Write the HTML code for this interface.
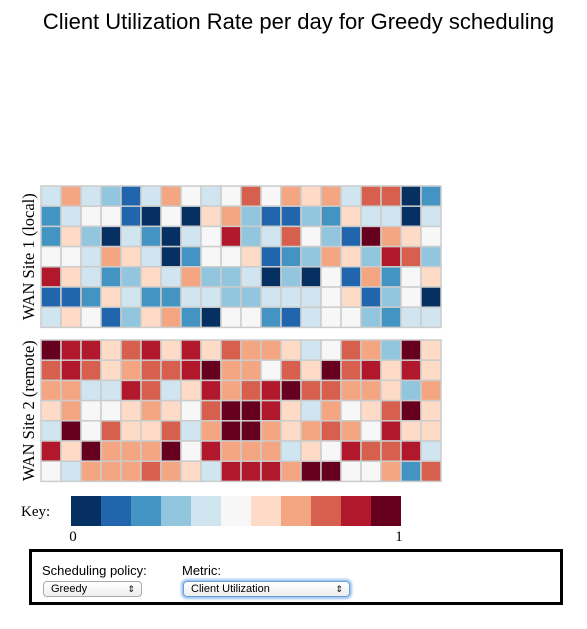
<!DOCTYPE html>
<html><head><meta charset="utf-8"><style>
body{margin:0;width:587px;height:629px;background:#fff;position:relative;overflow:hidden;font-family:"Liberation Sans",sans-serif}
.abs{position:absolute}
.sel{position:absolute;height:14px;border:1px solid #aaa;border-radius:4px;background:linear-gradient(#fff,#eee);font-size:11px;line-height:14px;padding-left:7px;box-sizing:content-box}
.sel span{position:absolute;right:6px;top:0;font-size:9px}
</style></head><body>
<div class="abs" style="left:0;width:597px;top:9px;text-align:center;font-size:22px">Client Utilization Rate per day for Greedy scheduling</div>
<svg id="chart" class="abs" style="left:0;top:0" width="587" height="545"></svg>
<div class="abs" style="left:29px;top:549px;width:528px;height:50px;border:3px solid #000">
  <div class="abs" style="left:10px;top:11px;font-size:13px">Scheduling policy:</div>
  <div class="sel" style="left:11px;top:29px;width:90px">Greedy<span>&#8661;</span></div>
  <div class="abs" style="left:150px;top:11px;font-size:13px">Metric:</div>
  <div class="sel" style="left:151px;top:29px;width:158px;border-color:#6a9fd8;box-shadow:0 0 2px 2px #9cc3ee">Client Utilization<span>&#8661;</span></div>
</div>
<script>
const colors=["#053061","#2166ac","#4393c3","#92c5de","#d1e5f0","#f7f7f7","#fddbc7","#f4a582","#d6604d","#b2182b","#67001f"];
const site1=[
[4,7,4,3,1,4,7,5,4,5,8,5,7,6,7,4,8,8,0,2],
[2,4,5,5,1,0,5,0,6,7,3,1,1,3,2,6,4,4,0,4],
[2,6,3,0,4,2,0,4,5,9,3,4,8,5,3,1,10,7,6,5],
[5,5,4,7,6,4,0,2,5,5,6,1,2,3,7,6,3,9,8,3],
[9,6,4,2,3,6,4,7,3,3,4,0,3,0,5,1,7,2,5,6],
[1,1,2,6,4,2,2,4,4,3,3,4,4,4,5,6,1,3,5,0],
[4,6,5,1,3,6,7,2,0,5,5,2,1,4,5,5,3,2,4,4]];
const site2=[
[10,9,9,6,8,9,6,9,6,8,7,7,6,4,5,8,7,3,10,6],
[8,9,8,6,7,8,8,9,10,7,7,5,8,6,10,8,9,6,9,6],
[7,7,4,4,9,8,4,6,9,7,8,9,10,8,8,7,7,6,3,7],
[6,7,5,5,6,7,6,5,8,10,10,9,6,4,7,5,6,8,10,6],
[4,10,5,8,6,6,8,4,7,10,10,7,6,7,8,7,5,9,6,6],
[9,6,10,7,7,7,10,5,9,7,7,7,4,6,5,9,8,8,9,4],
[5,4,7,7,7,8,7,6,4,9,9,9,7,10,10,5,5,7,2,8]];
const siteLabels=["WAN Site 1 (local)","WAN Site 2 (remote)"];
const keyTicks=["0","1"];
const svg=document.getElementById('chart');const NS="http://www.w3.org/2000/svg";
function mk(t,a){const e=document.createElementNS(NS,t);for(const k in a)e.setAttribute(k,a[k]);svg.appendChild(e);return e;}
const x0=41,cw=20,ch=20.2;const tops=[186,340];
function xs(i){return x0+i*cw;} function ys(s,j){return tops[s]+j*ch;}
function color(v){return colors[Math.max(0,Math.min(10,Math.round(v)))];}
[site1,site2].forEach((d,s)=>{
  d.forEach((row,j)=>row.forEach((v,i)=>{
    const r=mk('rect',{x:xs(i),y:ys(s,j),width:cw,height:ch,fill:color(v),stroke:'#ccc','stroke-width':1.5});
    
    
  }));
  const cy=tops[s]+ch*d.length/2;
  const t=mk('text',{x:0,y:0,transform:`translate(34,${cy}) rotate(-90)`,'text-anchor':'middle','font-family':'Liberation Serif,serif','font-size':16.5});
  t.textContent=siteLabels[s];
  
  
});
const kl=mk('text',{x:21,y:516,'font-family':'Liberation Serif,serif','font-size':15});kl.textContent='Key:';


colors.forEach((c,i)=>{const r=mk('rect',{x:71+i*30,y:496,width:30,height:30,fill:c});
  
  });
keyTicks.forEach((k,i)=>{const t=mk('text',{x:i?399:73,y:541,'text-anchor':'middle','font-family':'Liberation Serif,serif','font-size':15});t.textContent=k;
  
  });
</script>
</body></html>
